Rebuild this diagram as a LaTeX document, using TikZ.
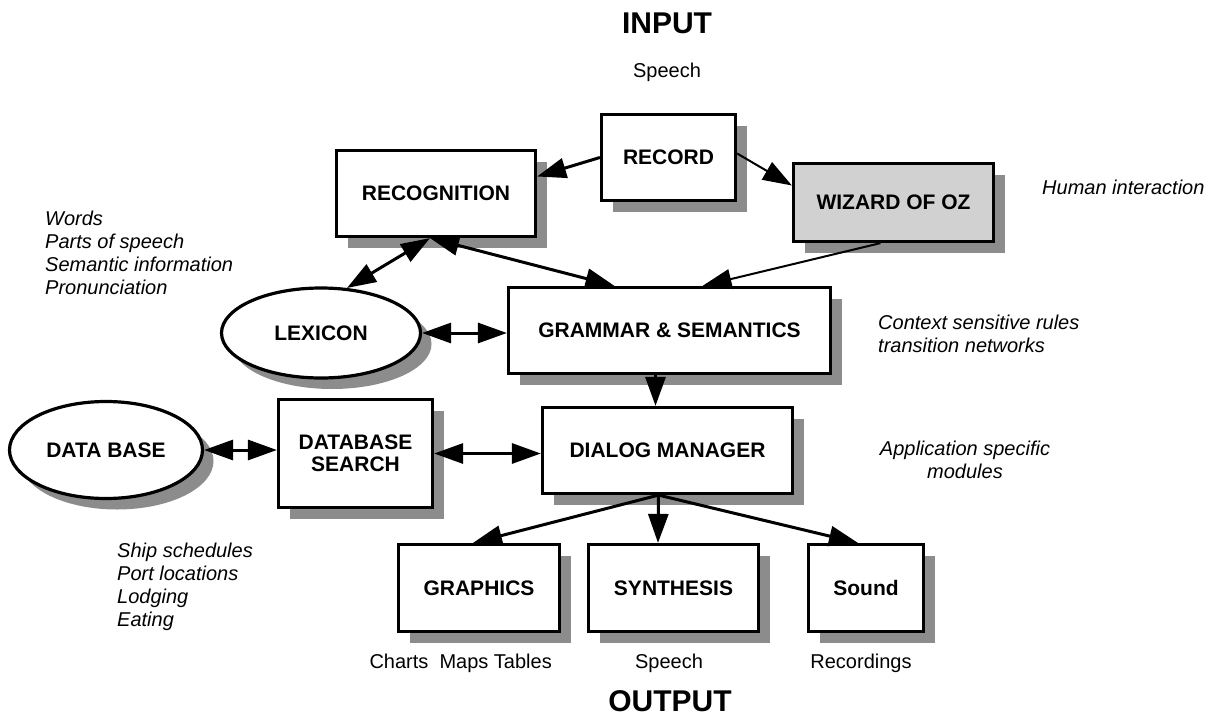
\documentclass[tikz,border=0pt]{standalone}
\usepackage{fontspec}
\setmainfont{Liberation Sans}
\usetikzlibrary{arrows.meta,shapes.geometric,shadows,calc}

\begin{document}
\begin{tikzpicture}[x=1pt,y=-1pt,
  shade/.style={drop shadow={shadow xshift=11pt,shadow yshift=-11pt,fill=black!45,opacity=1}},
  unit/.style={draw,line width=3.2pt,fill=white,shade,inner sep=0pt,align=center,
    font=\fontsize{21}{22}\selectfont\bfseries},
  box/.style={unit,rectangle},
  oval/.style={unit,ellipse},
  title/.style={inner sep=0pt,font=\fontsize{30}{32}\selectfont\bfseries},
  plain/.style={inner sep=0pt,font=\fontsize{20}{23}\selectfont},
  note/.style={inner sep=0pt,align=left,font=\fontsize{20}{23}\selectfont\itshape},
  tip/.style={-{Triangle[length=29pt,width=20pt]}},
  duo/.style={{Triangle[length=29pt,width=20pt]}-{Triangle[length=29pt,width=20pt]}},
  heavy/.style={line width=3pt},
  light/.style={line width=2pt},
]
\useasboundingbox (0,0) rectangle (1219,718);

% processing units
\node[box,minimum width=134pt,minimum height=86pt] (record) at (668.5,157.5) {RECORD};
\node[box,minimum width=199pt,minimum height=86pt] (recog) at (436,193.5) {RECOGNITION};
\node[box,minimum width=200pt,minimum height=78pt,fill=black!18] (wizard) at (893.5,202.5) {WIZARD OF OZ};
\node[oval,minimum width=199pt,minimum height=90pt] (lexicon) at (321,333) {LEXICON};
\node[box,minimum width=322pt,minimum height=86pt] (grammar) at (669.5,330.5) {GRAMMAR \& SEMANTICS};
\node[oval,minimum width=193pt,minimum height=97pt] (dbase) at (106,450) {DATA BASE};
\node[box,minimum width=154pt,minimum height=108pt] (search) at (355.5,453.5) {DATABASE\\SEARCH};
\node[box,minimum width=250pt,minimum height=86pt] (dialog) at (667.5,450.5) {DIALOG MANAGER};
\node[box,minimum width=161pt,minimum height=87pt] (graphics) at (479,588) {GRAPHICS};
\node[box,minimum width=170pt,minimum height=87pt] (synth) at (673.5,588) {SYNTHESIS};
\node[box,minimum width=115pt,minimum height=87pt] (sound) at (866,588) {Sound};

% headings and captions
\node[title,anchor=base] (input) at (667,33) {INPUT};
\node[plain,anchor=base] (inspeech) at (667,77) {Speech};
\node[title,anchor=base] (output) at (670,711) {OUTPUT};
\node[plain,anchor=base east] (charts) at (552,668) {Charts\ \ Maps Tables};
\node[plain,anchor=base] (outspeech) at (669,668) {Speech};
\node[plain,anchor=base] (recordings) at (861,668) {Recordings};

% side notes
\node[note,anchor=north west] (lexnote) at (45,211) {Words\\Parts of speech\\Semantic information\\Pronunciation};
\node[note,anchor=west] (human) at (1042,187) {Human interaction};
\node[note,anchor=north west] (rules) at (878,315) {Context sensitive rules\\transition networks};
\node[note,anchor=north,align=center] (apps) at (965,441) {Application specific\\modules};
\node[note,anchor=north west] (ships) at (117,543) {Ship schedules\\Port locations\\Lodging\\Eating};

% connectors
\draw[heavy,tip] (record.west) -- ([yshift=17pt]recog.east);
\draw[light,tip] ([yshift=4pt]record.east) -- ([yshift=17pt]wizard.west);
\draw[light,tip] ([xshift=-13pt]wizard.south) -- ([xshift=33pt]grammar.north);
\draw[heavy,duo] ([xshift=-6pt]recog.south) -- ([xshift=-55pt]grammar.north);
\draw[heavy,duo] ([xshift=-6pt]recog.south) -- (lexicon.60);
\draw[heavy,duo] (lexicon.east) -- (lexicon.east -| grammar.west);
\draw[heavy,duo] (dbase.east) -- (dbase.east -| search.west);
\draw[heavy,duo] (search.east) -- (search.east -| dialog.west);
\draw[heavy,tip] ([xshift=-14pt]grammar.south) -- ([xshift=-14pt]grammar.south |- dialog.north);
\draw[heavy,tip] ([xshift=-9pt]dialog.south) -- ([xshift=-6pt]graphics.north);
\draw[heavy,tip] ([xshift=-9pt]dialog.south) -- ([xshift=-15.5pt]synth.north);
\draw[heavy,tip] ([xshift=-9pt]dialog.south) -- ([xshift=-8pt]sound.north);
\end{tikzpicture}
\end{document}
